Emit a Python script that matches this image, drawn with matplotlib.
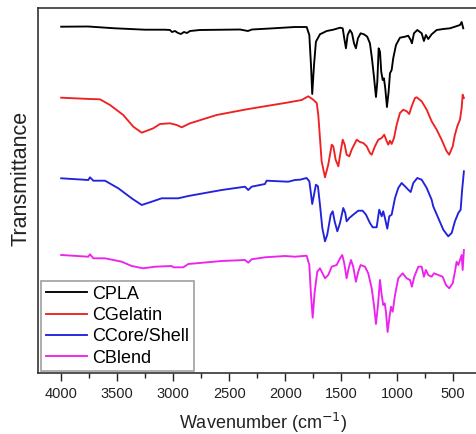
import matplotlib.pyplot as plt
from matplotlib.ticker import MultipleLocator

plt.rcParams['font.family'] = ['Liberation Sans', 'DejaVu Sans']

# ---- FTIR spectra (transmittance in arbitrary units, stacked) ----
wn_pla = [4000, 3761, 3520, 3252, 3073, 3029, 3011, 2984, 2957, 2931, 2904, 2877, 2850,
          2761, 2404, 2333, 2297, 2136, 1913, 1809, 1785, 1770, 1759, 1743, 1726, 1690,
          1630, 1571, 1511, 1487, 1473, 1458, 1443, 1422, 1404, 1386, 1369, 1351, 1327,
          1297, 1268, 1244, 1226, 1208, 1190, 1178, 1166, 1154, 1143, 1130, 1119, 1107,
          1092, 1077, 1065, 1050, 1036, 1011, 976, 931, 902, 880, 869, 851, 821, 782,
          762, 744, 723, 693, 648, 589, 529, 485, 440, 425, 411]
t_pla = [346.3, 346.5, 344.7, 343.3, 343.3, 343, 341, 342, 340, 339, 341, 340, 342,
         343, 343.5, 342, 343.5, 344.5, 346, 346, 338, 308, 279, 308, 331.3, 338.7,
         342, 343.3, 345.3, 344.7, 334.7, 324.7, 338, 343, 339.7, 329.7, 324.7, 334.7, 339.7,
         338.7, 336.3, 329.7, 314.7, 296.3, 276, 291.3, 324.7, 321.3, 301.3, 293, 294.7, 284.7,
         266, 281.3, 299.7, 303, 314.7, 328, 335.3, 336.3, 337.3, 333, 329.7, 339.7, 343, 339.7,
         332, 338, 334, 338.7, 343, 344, 344.7, 346.3, 348, 351, 344.7]

wn_gel = [4000, 3743, 3654, 3564, 3446, 3356, 3281, 3178, 3118, 3029, 2969, 2924, 2850,
          2612, 2344, 2166, 1987, 1853, 1794, 1750, 1719, 1705, 1690, 1675, 1645, 1616,
          1585, 1571, 1550, 1526, 1505, 1487, 1469, 1452, 1428, 1407, 1362, 1333, 1303,
          1273, 1244, 1228, 1199, 1169, 1139, 1116, 1094, 1080, 1065, 1050, 1029, 1005,
          976, 946, 916, 893, 871, 842, 827, 782, 737, 693, 648, 604, 559, 536, 505,
          485, 464, 440, 425, 416, 405]
t_gel = [275.3, 274, 273.7, 268, 258, 246.3, 240.3, 244.7, 249, 249.7, 248, 245.7, 249.7,
         258, 263.7, 267, 270.3, 273, 276.7, 273.3, 270, 258.3, 235, 211.7, 195.7, 208.3,
         228.3, 226.7, 213.3, 206.7, 221.7, 233.3, 228.3, 218.3, 216.7, 223.3, 233.3, 231, 230,
         226.7, 220, 218.3, 226.7, 233.3, 235, 238.3, 231.7, 228.3, 232.3, 229, 235, 248.3,
         260, 263.3, 261.7, 259, 266.7, 275, 275.7, 271.7, 263.3, 251.7, 243.3, 233.3, 221.7, 218.3, 226.7,
         238.3, 246.7, 253.3, 265, 278.3, 275]

wn_cs = [4000, 3758, 3743, 3713, 3609, 3490, 3371, 3281, 3192, 3103, 2955, 2865, 2567,
         2359, 2330, 2300, 2181, 2166, 1973, 1913, 1868, 1809, 1785, 1773, 1759, 1743,
         1726, 1708, 1690, 1669, 1645, 1625, 1594, 1576, 1559, 1535, 1511, 1482, 1464,
         1452, 1428, 1393, 1348, 1309, 1279, 1244, 1219, 1184, 1161, 1139, 1125, 1110,
         1089, 1071, 1050, 1020, 991, 961, 931, 902, 880, 857, 821, 782, 737, 693, 679,
         634, 589, 545, 514, 485, 455, 434, 422, 405]
t_cs = [194.7, 193, 195.7, 192.3, 192.3, 184.7, 174.7, 168, 171.3, 174.7, 174.7, 177, 183,
        186.3, 183, 186.3, 189, 192.3, 191.3, 193, 193.3, 195, 191.7, 181.7, 169, 178.3,
        188.3, 186.7, 168.3, 145, 131.7, 138.3, 158.3, 161.7, 151.7, 141.7, 150, 165, 160,
        151.7, 155, 158.3, 162.3, 162.3, 158.3, 150, 145.7, 145.7, 163.3, 156.7, 161.7, 155,
        144.3, 156.7, 158.3, 175, 185, 190, 186.7, 183.3, 181, 190, 195, 193.3, 185, 173.3, 166.7,
        155, 143.3, 136.7, 140, 151.7, 160, 163.3, 181.7, 201.7]

wn_blend = [4000, 3758, 3743, 3713, 3609, 3460, 3371, 3267, 3163, 3014, 2999, 2910, 2865,
            2567, 2359, 2330, 2300, 2181, 2002, 1913, 1809, 1785, 1770, 1755, 1737, 1714,
            1690, 1645, 1616, 1585, 1541, 1511, 1491, 1473, 1452, 1434, 1413, 1393, 1369,
            1348, 1327, 1288, 1259, 1228, 1208, 1190, 1172, 1154, 1139, 1125, 1112, 1101,
            1086, 1071, 1056, 1041, 1020, 991, 952, 916, 886, 869, 848, 812, 782, 762,
            744, 723, 693, 672, 634, 595, 565, 536, 505, 485, 470, 455, 440, 425, 416, 405]
t_blend = [118, 116.3, 118.7, 114.7, 114.7, 111.3, 107, 104.7, 106.3, 107, 105.7, 105.7, 109,
           112, 113, 110.3, 113.7, 115.7, 117, 116.3, 117.3, 108, 78, 55.3, 81.3, 101.3,
           104.7, 94.7, 98, 106.3, 108, 114.7, 118, 109.7, 94.7, 104.7, 113, 106.3, 91.3,
           101.3, 108, 106.3, 99.7, 84.7, 68, 49, 68, 93, 78, 68, 69.7, 61.3,
           41, 54.7, 66.3, 61.3, 78, 94.7, 99.7, 94.7, 93, 86.3, 96.3, 106.3, 106.3, 96.3,
           103, 98, 96.3, 99.7, 98, 96.3, 88, 84.7, 89.7, 101.3, 111.3, 108, 113, 118, 103, 123]

labels = ["CPLA", "CGelatin", "CCore/Shell", "CBlend"]
colors = ["black", "#ee2222", "#2222dd", "#ee22ee"]

# ---- plot ----
fig = plt.figure(figsize=(4.76, 4.34), dpi=100)
ax = fig.add_axes([38 / 476, 1 - 373 / 434, 1 - 38 / 476, 365 / 434])

series = [(wn_pla, t_pla), (wn_gel, t_gel), (wn_cs, t_cs), (wn_blend, t_blend)]
for (wn, t), lab, c in zip(series, labels, colors):
    ax.plot(wn, t, color=c, linewidth=1.35, label=lab)

ax.set_xlim(4207, 297)
ax.set_ylim(0, 365)
ax.xaxis.set_major_locator(MultipleLocator(500))
ax.xaxis.set_minor_locator(MultipleLocator(250))
ax.set_yticks([])
ax.tick_params(axis='x', which='major', direction='out', length=6, width=1,
               labelsize=10.5, pad=4, colors='#222222')
ax.tick_params(axis='x', which='minor', direction='out', length=3.5, width=1, colors='#222222')

for side in ['left', 'top', 'bottom']:
    ax.spines[side].set_color('#333333')
    ax.spines[side].set_linewidth(1.2)
ax.spines['right'].set_visible(False)

ax.set_xlabel("Wavenumber (cm$^{-1}$)", fontsize=13, color='#222222')
ax.set_ylabel("Transmittance", fontsize=15.5, color='#222222')
ax.xaxis.set_label_coords(0.514, -0.105)
ax.yaxis.set_label_coords(-0.015, 0.534)

leg = ax.legend(loc='lower left', bbox_to_anchor=(0.007, 0.005), borderaxespad=0,
                fontsize=13, frameon=True, fancybox=False, handlelength=2.3,
                handletextpad=0.3, labelspacing=0.24, borderpad=0.25)
leg.get_frame().set_edgecolor('#888888')
leg.get_frame().set_linewidth(1.2)

plt.savefig("out.png", dpi=100)
